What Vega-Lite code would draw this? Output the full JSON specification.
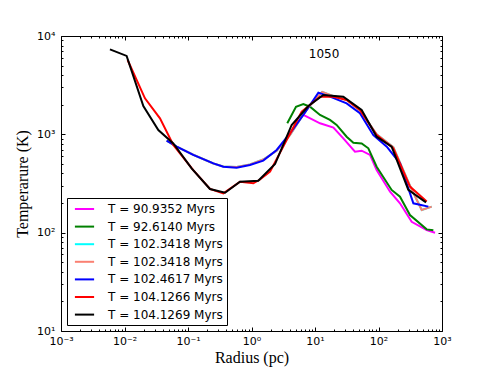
{
  "$schema": "https://vega.github.io/schema/vega-lite/v6.json",
  "width": 381,
  "height": 295,
  "autosize": {"type": "none"},
  "padding": {"left": 61, "top": 36, "right": 49, "bottom": 37},
  "background": "white",
  "config": {
    "view": {"stroke": "black", "strokeWidth": 1},
    "axis": {"grid": false, "domain": false, "labelColor": "black", "tickColor": "black", "tickWidth": 1, "labelFont": "DejaVu Sans", "labelFontSize": 11, "titleFont": "Liberation Serif", "titleFontSize": 16, "titleFontWeight": "normal", "titleColor": "black"}
  },
  "datasets": {
    "profiles": [
      {"series": "a", "r": 6.55, "T": 1574}, {"series": "a", "r": 12, "T": 1295}, {"series": "a", "r": 19.5, "T": 1169}, {"series": "a", "r": 27.9, "T": 910}, {"series": "a", "r": 42.6, "T": 667}, {"series": "a", "r": 54.3, "T": 682}, {"series": "a", "r": 73.5, "T": 617}, {"series": "a", "r": 93.5, "T": 433}, {"series": "a", "r": 152, "T": 261}, {"series": "a", "r": 218, "T": 199}, {"series": "a", "r": 333, "T": 129}, {"series": "a", "r": 574, "T": 106}, {"series": "a", "r": 778, "T": 100},
      {"series": "b", "r": 3.66, "T": 1295}, {"series": "b", "r": 5.02, "T": 1910}, {"series": "b", "r": 6.55, "T": 2032}, {"series": "b", "r": 8.34, "T": 1910}, {"series": "b", "r": 12, "T": 1574}, {"series": "b", "r": 17.2, "T": 1400}, {"series": "b", "r": 21.9, "T": 1245}, {"series": "b", "r": 31.5, "T": 946}, {"series": "b", "r": 40.2, "T": 822}, {"series": "b", "r": 54.3, "T": 809}, {"series": "b", "r": 69.2, "T": 721}, {"series": "b", "r": 93.5, "T": 469}, {"series": "b", "r": 161, "T": 272}, {"series": "b", "r": 218, "T": 232}, {"series": "b", "r": 313, "T": 151}, {"series": "b", "r": 574, "T": 108}, {"series": "b", "r": 731, "T": 106},
      {"series": "c", "r": 0.0461, "T": 863}, {"series": "c", "r": 0.0664, "T": 750}, {"series": "c", "r": 0.121, "T": 620}, {"series": "c", "r": 0.251, "T": 505}, {"series": "c", "r": 0.36, "T": 470}, {"series": "c", "r": 0.583, "T": 465}, {"series": "c", "r": 0.946, "T": 495}, {"series": "c", "r": 1.53, "T": 555}, {"series": "c", "r": 2.49, "T": 680}, {"series": "c", "r": 4.03, "T": 980}, {"series": "c", "r": 6.17, "T": 1500}, {"series": "c", "r": 8.5, "T": 2000}, {"series": "c", "r": 13, "T": 2700}, {"series": "c", "r": 19.5, "T": 2450}, {"series": "c", "r": 31.5, "T": 2250}, {"series": "c", "r": 51, "T": 1750}, {"series": "c", "r": 93.5, "T": 1000}, {"series": "c", "r": 171, "T": 740}, {"series": "c", "r": 313, "T": 300}, {"series": "c", "r": 479, "T": 170}, {"series": "c", "r": 689, "T": 184},
      {"series": "d", "r": 0.0461, "T": 863}, {"series": "d", "r": 0.0664, "T": 750}, {"series": "d", "r": 0.121, "T": 620}, {"series": "d", "r": 0.251, "T": 505}, {"series": "d", "r": 0.36, "T": 470}, {"series": "d", "r": 0.583, "T": 465}, {"series": "d", "r": 0.946, "T": 495}, {"series": "d", "r": 1.53, "T": 555}, {"series": "d", "r": 2.49, "T": 680}, {"series": "d", "r": 4.03, "T": 980}, {"series": "d", "r": 6.17, "T": 1500}, {"series": "d", "r": 8.5, "T": 2000}, {"series": "d", "r": 13, "T": 2700}, {"series": "d", "r": 19.5, "T": 2450}, {"series": "d", "r": 31.5, "T": 2250}, {"series": "d", "r": 51, "T": 1750}, {"series": "d", "r": 93.5, "T": 1000}, {"series": "d", "r": 171, "T": 740}, {"series": "d", "r": 313, "T": 300}, {"series": "d", "r": 479, "T": 170}, {"series": "d", "r": 689, "T": 184},
      {"series": "e", "r": 0.0461, "T": 863}, {"series": "e", "r": 0.0664, "T": 750}, {"series": "e", "r": 0.121, "T": 617}, {"series": "e", "r": 0.251, "T": 507}, {"series": "e", "r": 0.36, "T": 469}, {"series": "e", "r": 0.583, "T": 458}, {"series": "e", "r": 0.946, "T": 487}, {"series": "e", "r": 1.53, "T": 540}, {"series": "e", "r": 2.49, "T": 693}, {"series": "e", "r": 4.03, "T": 1023}, {"series": "e", "r": 6.55, "T": 1574}, {"series": "e", "r": 11.3, "T": 2655}, {"series": "e", "r": 17.2, "T": 2416}, {"series": "e", "r": 31.5, "T": 2065}, {"series": "e", "r": 51, "T": 1637}, {"series": "e", "r": 83, "T": 981}, {"series": "e", "r": 135, "T": 750}, {"series": "e", "r": 218, "T": 507}, {"series": "e", "r": 354, "T": 199}, {"series": "e", "r": 610, "T": 184},
      {"series": "f", "r": 0.0112, "T": 5700}, {"series": "f", "r": 0.021, "T": 2324}, {"series": "f", "r": 0.0362, "T": 1455}, {"series": "f", "r": 0.0587, "T": 780}, {"series": "f", "r": 0.121, "T": 433}, {"series": "f", "r": 0.222, "T": 278}, {"series": "f", "r": 0.36, "T": 251}, {"series": "f", "r": 0.659, "T": 330}, {"series": "f", "r": 1.07, "T": 318}, {"series": "f", "r": 1.36, "T": 347}, {"series": "f", "r": 1.96, "T": 417}, {"series": "f", "r": 3.58, "T": 875}, {"series": "f", "r": 6.17, "T": 1702}, {"series": "f", "r": 12, "T": 2416}, {"series": "f", "r": 19.5, "T": 2416}, {"series": "f", "r": 31.5, "T": 2233}, {"series": "f", "r": 51, "T": 1766}, {"series": "f", "r": 93.5, "T": 981}, {"series": "f", "r": 171, "T": 721}, {"series": "f", "r": 313, "T": 294}, {"series": "f", "r": 574, "T": 207},
      {"series": "g", "r": 0.0059, "T": 7310}, {"series": "g", "r": 0.0108, "T": 6270}, {"series": "g", "r": 0.0198, "T": 1940}, {"series": "g", "r": 0.0341, "T": 1107}, {"series": "g", "r": 0.0587, "T": 809}, {"series": "g", "r": 0.114, "T": 451}, {"series": "g", "r": 0.222, "T": 278}, {"series": "g", "r": 0.383, "T": 255}, {"series": "g", "r": 0.659, "T": 330}, {"series": "g", "r": 1.28, "T": 338}, {"series": "g", "r": 2.35, "T": 499}, {"series": "g", "r": 4.29, "T": 1245}, {"series": "g", "r": 7.86, "T": 1940}, {"series": "g", "r": 13.5, "T": 2512}, {"series": "g", "r": 27.9, "T": 2416}, {"series": "g", "r": 54.3, "T": 1766}, {"series": "g", "r": 93.5, "T": 946}, {"series": "g", "r": 161, "T": 750}, {"series": "g", "r": 295, "T": 272}, {"series": "g", "r": 560, "T": 203}
    ],
    "note": [{"label": "1050", "r": 13.9, "T": 6520}]
  },
  "resolve": {"axis": {"x": "independent", "y": "independent"}},
  "layer": [
    {
      "data": {"name": "profiles"},
      "mark": {"type": "line", "strokeWidth": 2},
      "encoding": {
        "x": {"field": "r", "type": "quantitative", "scale": {"type": "log", "domain": [0.001, 1000], "nice": false},
          "axis": {"orient": "bottom", "title": "Radius (pc)", "values": [0.001, 0.01, 0.1, 1, 10, 100, 1000], "ticks": false, "labelPadding": 4, "titlePadding": 3, "labelFlush": false,
            "labelExpr": "datum.value < 0.005 ? '10⁻³' : datum.value < 0.05 ? '10⁻²' : datum.value < 0.5 ? '10⁻¹' : datum.value < 5 ? '10⁰' : datum.value < 50 ? '10¹' : datum.value < 500 ? '10²' : '10³'"}},
        "y": {"field": "T", "type": "quantitative", "scale": {"type": "log", "domain": [10, 10000], "nice": false},
          "axis": {"orient": "left", "title": "Temperarure (K)", "values": [10, 100, 1000, 10000], "ticks": false, "labelPadding": 6, "titlePadding": 6, "labelFlush": false,
            "labelExpr": "datum.value < 50 ? '10¹' : datum.value < 500 ? '10²' : datum.value < 5000 ? '10³' : '10⁴'"}},
        "color": {"field": "series", "type": "nominal",
          "scale": {"domain": ["a", "b", "c", "d", "e", "f", "g"], "range": ["#ff00ff", "#008000", "#00ffff", "#fa8072", "#0000ff", "#ff0000", "#000000"]},
          "legend": {"orient": "bottom-left", "offset": 6, "title": null, "strokeColor": "black", "fillColor": "white", "padding": 4, "cornerRadius": 0,
            "symbolType": "M-1.6,0L1.6,0", "symbolStrokeWidth": 2, "symbolSize": 144, "symbolOffset": 6.5, "labelOffset": 16.5, "labelFont": "DejaVu Sans", "labelFontSize": 12, "labelColor": "black", "rowPadding": 4.6, "labelLimit": 300,
            "labelExpr": "datum.value == 'a' ? 'T = 90.9352 Myrs' : datum.value == 'b' ? 'T = 92.6140 Myrs' : datum.value == 'c' ? 'T = 102.3418 Myrs' : datum.value == 'd' ? 'T = 102.3418 Myrs' : datum.value == 'e' ? 'T = 102.4617 Myrs' : datum.value == 'f' ? 'T = 104.1266 Myrs' : 'T = 104.1269 Myrs'"}}
      }
    },
    {
      "data": {"name": "note"},
      "mark": {"type": "text", "font": "DejaVu Sans", "fontSize": 12, "color": "black", "align": "center", "baseline": "middle"},
      "encoding": {
        "x": {"field": "r", "type": "quantitative", "axis": {"orient": "top", "title": null, "labels": false, "values": [0.001, 0.01, 0.1, 1, 10, 100, 1000], "tickSize": -4}},
        "y": {"field": "T", "type": "quantitative", "axis": {"orient": "right", "title": null, "labels": false, "values": [10, 100, 1000, 10000], "tickSize": -4}},
        "text": {"field": "label"}
      }
    },
    {
      "data": {"name": "note"},
      "mark": {"type": "text", "opacity": 0},
      "encoding": {
        "x": {"field": "r", "type": "quantitative", "axis": {"orient": "bottom", "title": null, "labels": false, "values": [0.001, 0.01, 0.1, 1, 10, 100, 1000], "tickSize": -4}},
        "y": {"field": "T", "type": "quantitative", "axis": {"orient": "left", "title": null, "labels": false, "values": [10, 100, 1000, 10000], "tickSize": -4}},
        "text": {"field": "label"}
      }
    },
    {
      "data": {"name": "note"},
      "mark": {"type": "text", "opacity": 0},
      "encoding": {
        "x": {"field": "r", "type": "quantitative", "axis": {"orient": "bottom", "title": null, "labels": false, "tickSize": -2, "values": [0.002,0.003,0.004,0.005,0.006,0.007,0.008,0.009,0.02,0.03,0.04,0.05,0.06,0.07,0.08,0.09,0.2,0.3,0.4,0.5,0.6,0.7,0.8,0.9,2,3,4,5,6,7,8,9,20,30,40,50,60,70,80,90,200,300,400,500,600,700,800,900]}},
        "y": {"field": "T", "type": "quantitative", "axis": {"orient": "left", "title": null, "labels": false, "tickSize": -2, "values": [20,30,40,50,60,70,80,90,200,300,400,500,600,700,800,900,2000,3000,4000,5000,6000,7000,8000,9000]}},
        "text": {"field": "label"}
      }
    },
    {
      "data": {"name": "note"},
      "mark": {"type": "text", "opacity": 0},
      "encoding": {
        "x": {"field": "r", "type": "quantitative", "axis": {"orient": "top", "title": null, "labels": false, "tickSize": -2, "values": [0.002,0.003,0.004,0.005,0.006,0.007,0.008,0.009,0.02,0.03,0.04,0.05,0.06,0.07,0.08,0.09,0.2,0.3,0.4,0.5,0.6,0.7,0.8,0.9,2,3,4,5,6,7,8,9,20,30,40,50,60,70,80,90,200,300,400,500,600,700,800,900]}},
        "y": {"field": "T", "type": "quantitative", "axis": {"orient": "right", "title": null, "labels": false, "tickSize": -2, "values": [20,30,40,50,60,70,80,90,200,300,400,500,600,700,800,900,2000,3000,4000,5000,6000,7000,8000,9000]}},
        "text": {"field": "label"}
      }
    }
  ]
}
